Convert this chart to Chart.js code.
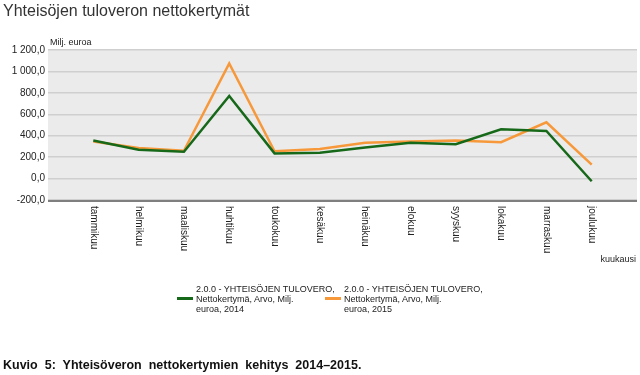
<!DOCTYPE html>
<html>
<head>
<meta charset="utf-8">
<script src="https://cdn.jsdelivr.net/npm/chart.js@4/dist/chart.umd.min.js"></script>
<style>
  body { margin: 0; background: #fff; font-family: Arial, "Liberation Sans", sans-serif; }
  #wrap { position: relative; width: 640px; height: 375px; }
  canvas { position: absolute; left: 0; top: 0; }
  .txt { position: absolute; white-space: nowrap; color: #222; }
  #title { left: 3px; top: 2px; font-size: 16px; color: #333; }
  #unit { left: 50px; top: 37px; font-size: 9px; }
  #xtitle { right: 4px; top: 254px; font-size: 9px; }
  .leg { position: absolute; top: 284px; font-size: 9px; line-height: 10px; color: #222; }
  .sw { position: absolute; top: 297px; width: 16px; height: 3px; }
  #caption { left: 3px; top: 358px; font-size: 12.5px; font-weight: bold; word-spacing: 3.5px; color: #111; }
</style>
</head>
<body>
<div id="wrap">
  <canvas id="chart" width="640" height="375"></canvas>
  <div class="txt" id="title">Yhteisöjen tuloveron nettokertymät</div>
  <div class="txt" id="unit">Milj. euroa</div>
  <div class="txt" id="xtitle">kuukausi</div>
  <div class="sw" style="left:177px;background:#17691a"></div>
  <div class="leg" style="left:196px">2.0.0 - YHTEISÖJEN TULOVERO,<br>Nettokertymä, Arvo, Milj.<br>euroa, 2014</div>
  <div class="sw" style="left:325px;background:#f7993a"></div>
  <div class="leg" style="left:344px">2.0.0 - YHTEISÖJEN TULOVERO,<br>Nettokertymä, Arvo, Milj.<br>euroa, 2015</div>
  <div class="txt" id="caption">Kuvio 5: Yhteisöveron nettokertymien kehitys 2014–2015.</div>
</div>
<script>
const months = ["tammikuu", "helmikuu", "maaliskuu", "huhtikuu", "toukokuu", "kesäkuu",
  "heinäkuu", "elokuu", "syyskuu", "lokakuu", "marraskuu", "joulukuu"];
const values2014 = [355, 270, 250, 770, 235, 240, 290, 335, 320, 460, 445, -25];
const values2015 = [345, 285, 260, 1075, 255, 275, 335, 345, 355, 340, 525, 130];
const yTicks = [-200, 0, 200, 400, 600, 800, 1000, 1200];

function fmt(v) {
  const s = Math.abs(v).toFixed(0).replace(/\B(?=(\d{3})+(?!\d))/g, " ");
  return (v < 0 ? "-" : "") + s + ",0";
}

// plot background, bottom axis line and vertical month labels
const decor = {
  id: "decor",
  beforeDraw(chart) {
    const a = chart.chartArea, c = chart.ctx;
    c.save();
    c.fillStyle = "#ebebeb";
    c.fillRect(a.left, a.top, a.right - a.left, a.bottom - a.top);
    c.restore();
  },
  afterDraw(chart) {
    const a = chart.chartArea, c = chart.ctx, x = chart.scales.x;
    c.save();
    c.strokeStyle = "#7f7f7f";
    c.lineWidth = 2;
    c.beginPath();
    c.moveTo(a.left, a.bottom + 1);
    c.lineTo(a.right, a.bottom + 1);
    c.stroke();
    c.fillStyle = "#222";
    c.font = "10px Arial";
    c.textBaseline = "middle";
    months.forEach((m, i) => {
      c.save();
      c.translate(x.getPixelForValue(i + 1), a.bottom + 6);
      c.rotate(Math.PI / 2);
      c.fillText(m, 0, 0);
      c.restore();
    });
    c.restore();
  }
};

new Chart(document.getElementById("chart"), {
  type: "line",
  data: {
    datasets: [
      {
        label: "2014",
        data: values2014.map((v, i) => ({ x: i + 1, y: v })),
        borderColor: "#17691a",
        borderWidth: 2.5,
        pointRadius: 0,
        tension: 0
      },
      {
        label: "2015",
        data: values2015.map((v, i) => ({ x: i + 1, y: v })),
        borderColor: "#f7993a",
        borderWidth: 2.5,
        pointRadius: 0,
        tension: 0
      }
    ]
  },
  options: {
    responsive: false,
    animation: false,
    layout: { padding: { top: 50, right: 3, left: 0, bottom: 0 } },
    plugins: { legend: { display: false }, tooltip: { enabled: false } },
    scales: {
      x: {
        type: "linear",
        min: 0,
        max: 13,
        grid: { display: false },
        border: { display: false },
        ticks: { display: false },
        afterFit(s) { s.height = 175; }
      },
      y: {
        min: -200,
        max: 1200,
        afterBuildTicks(s) { s.ticks = yTicks.map(v => ({ value: v })); },
        afterFit(s) { s.width = 48; },
        grid: { color: "#cfcfcf", lineWidth: 1.5, drawTicks: false },
        border: { display: false },
        ticks: {
          padding: 3,
          color: "#222",
          font: { family: "Arial", size: 10 },
          callback: v => fmt(v)
        }
      }
    }
  },
  plugins: [decor]
});
</script>
</body>
</html>
